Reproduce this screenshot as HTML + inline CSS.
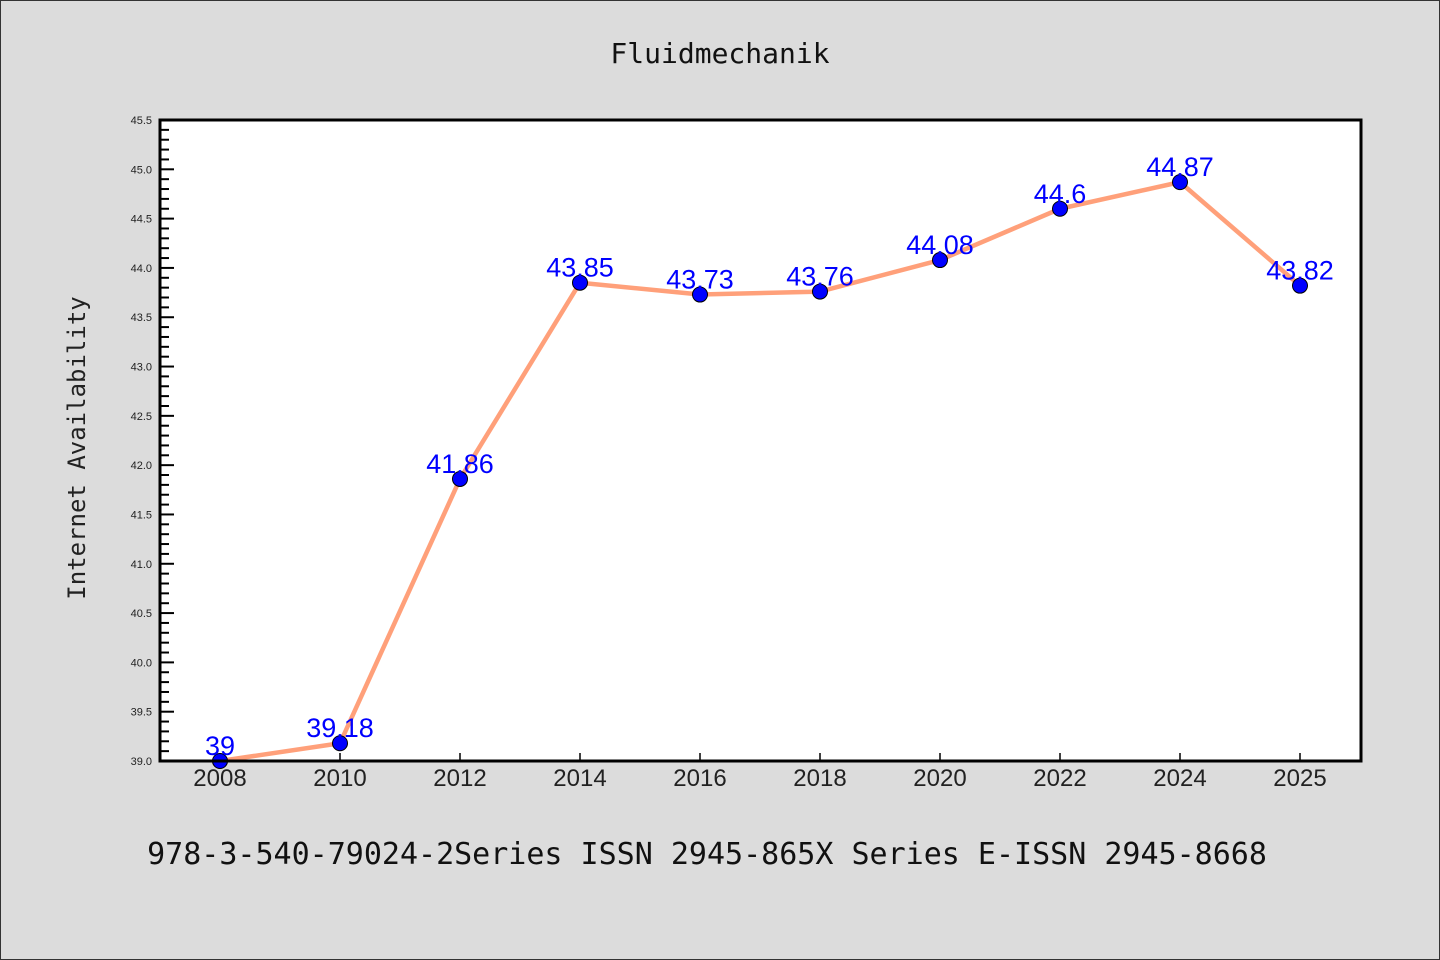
<!DOCTYPE html>
<html><head><meta charset="utf-8"><style>
html,body{margin:0;padding:0;background:#dcdcdc;}
svg{display:block;font-family:"Liberation Sans","DejaVu Sans",sans-serif;}
</style></head><body>
<svg id="chart" width="1440" height="960">
<rect x="0.5" y="0.5" width="1439" height="959" fill="#dcdcdc" stroke="#333"/>
<text x="720" y="63" text-anchor="middle" font-size="28" font-family="DejaVu Sans Mono, monospace" fill="#111">Fluidmechanik</text>
<rect x="160" y="120" width="1201" height="641" fill="#fff"/>
<g id="yaxis"></g><g id="xaxis"></g><g id="series"></g>
<rect x="160" y="120" width="1201" height="641" fill="none" stroke="#000" stroke-width="3"/>
<text transform="translate(85,448) rotate(-90)" text-anchor="middle" font-size="24" font-family="DejaVu Sans Mono, monospace" fill="#222">Internet Availability</text>
<text x="707" y="864" text-anchor="middle" font-size="30" font-family="DejaVu Sans Mono, monospace" fill="#111">978-3-540-79024-2Series ISSN 2945-865X Series E-ISSN 2945-8668</text>
</svg>
<script>
const categories = ["2008","2010","2012","2014","2016","2018","2020","2022","2024","2025"];
const values = [39, 39.18, 41.86, 43.85, 43.73, 43.76, 44.08, 44.6, 44.87, 43.82];
const valueLabels = ["39","39.18","41.86","43.85","43.73","43.76","44.08","44.6","44.87","43.82"];
const yTicks = ["39.0","39.5","40.0","40.5","41.0","41.5","42.0","42.5","43.0","43.5","44.0","44.5","45.0","45.5"];
const yMin = 39.0, yMax = 45.5;
const NS = "http://www.w3.org/2000/svg";
function y(v){return 761 - (v - yMin) / (yMax - yMin) * 641;}
function x(i){return 220 + i * 120;}
function mk(tag, attrs, parent){const e=document.createElementNS(NS,tag);for(const k in attrs)e.setAttribute(k,attrs[k]);parent.appendChild(e);return e;}
const ya = document.getElementById('yaxis');
for (let k = 0; k <= 65; k++) {
  const v = yMin + k * 0.1;
  const major = k % 5 === 0;
  const t = mk('line', {x1:160, x2:160 + (major?14:9), y1:y(v), y2:y(v), stroke:'#000', 'stroke-width':2}, ya);
  
  
}
yTicks.forEach(s => {
  const t = mk('text', {x:152, y:y(parseFloat(s)) + 4, 'text-anchor':'end', 'font-size':11, fill:'#222'}, ya);
  t.textContent = s;
  
  
});
const xa = document.getElementById('xaxis');
categories.forEach((c, i) => {
  const tk = mk('line', {x1:x(i), x2:x(i), y1:761, y2:753, stroke:'#000', 'stroke-width':1.5}, xa);
  
  
  const t = mk('text', {x:x(i), y:786, 'text-anchor':'middle', 'font-size':24, fill:'#222'}, xa);
  t.textContent = c;
  
  
});
const sg = document.getElementById('series');
const line = mk('polyline', {points: values.map((v,i)=>x(i)+','+y(v)).join(' '), fill:'none', stroke:'#ffa07a', 'stroke-width':4.5, 'stroke-linejoin':'round'}, sg);


values.forEach((v, i) => {
  const c = mk('circle', {cx:x(i), cy:y(v), r:7.5, fill:'#0000ff', stroke:'#000', 'stroke-width':1}, sg);
  
  
  const t = mk('text', {x:x(i), y:y(v) - 6, 'text-anchor':'middle', 'font-size':27, fill:'#0000ff'}, sg);
  t.textContent = valueLabels[i];
  
  
});
</script>
</body></html>
